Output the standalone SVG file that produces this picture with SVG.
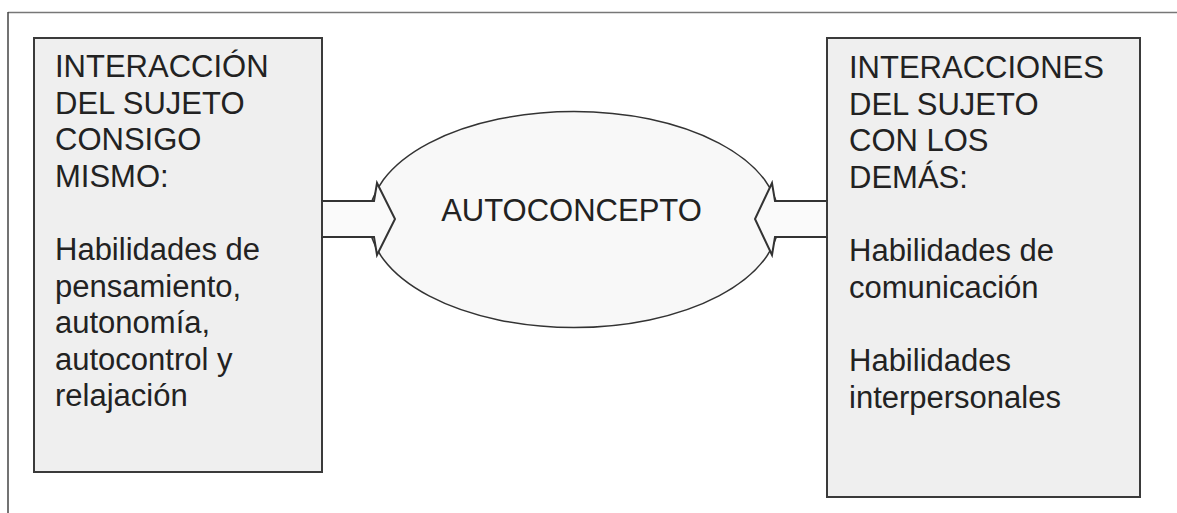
<svg xmlns="http://www.w3.org/2000/svg" width="1177" height="513" viewBox="0 0 1177 513">
<style>
.box{fill:#efefef;stroke:#3a3a3a;stroke-width:2}
.t{font-family:"Liberation Sans",Arial,sans-serif;font-size:31px;fill:#222}
.arrow{fill:#fafafa;stroke:#333;stroke-width:2;stroke-linejoin:miter}
</style>
<rect width="1177" height="513" fill="#fff"/>
<g id="frame">
<line x1="8" y1="12.5" x2="1177" y2="12.5" stroke="#777" stroke-width="1.5"/>
<line x1="8" y1="12" x2="8" y2="513" stroke="#444" stroke-width="1.5"/>
</g>
<g id="left-node">
<rect class="box" x="34" y="38" width="288" height="434"/>
<text class="t" x="55" y="77">INTERACCIÓN</text>
<text class="t" x="55" y="113.5">DEL SUJETO</text>
<text class="t" x="55" y="150">CONSIGO</text>
<text class="t" x="55" y="186.5">MISMO:</text>
<text class="t" x="55" y="260">Habilidades de</text>
<text class="t" x="55" y="296.5">pensamiento,</text>
<text class="t" x="55" y="333">autonomía,</text>
<text class="t" x="55" y="369.5">autocontrol y</text>
<text class="t" x="55" y="406">relajación</text>
</g>
<g id="right-node">
<rect class="box" x="827" y="38" width="313" height="459"/>
<text class="t" x="849" y="78">INTERACCIONES</text>
<text class="t" x="849" y="114.5">DEL SUJETO</text>
<text class="t" x="849" y="151">CON LOS</text>
<text class="t" x="849" y="187.5">DEMÁS:</text>
<text class="t" x="849" y="261">Habilidades de</text>
<text class="t" x="849" y="297.5">comunicación</text>
<text class="t" x="849" y="371">Habilidades</text>
<text class="t" x="849" y="407.5">interpersonales</text>
</g>
<g id="center-node">
<ellipse cx="574" cy="219.5" rx="205" ry="108" fill="#f8f8f8" stroke="#333" stroke-width="1.5"/>
</g>
<g id="connectors">
<polygon class="arrow" points="322,201 374,201 377,183 395,219 377,255 374,237 322,237"/>
<polygon class="arrow" points="827,201 775,201 772,183 755,219 772,255 775,237 827,237"/>
<line x1="322" y1="201" x2="322" y2="237" stroke="#3a3a3a" stroke-width="2"/>
<line x1="827" y1="201" x2="827" y2="237" stroke="#3a3a3a" stroke-width="2"/>
</g>
<text class="t" x="571.5" y="221" text-anchor="middle">AUTOCONCEPTO</text>
</svg>
